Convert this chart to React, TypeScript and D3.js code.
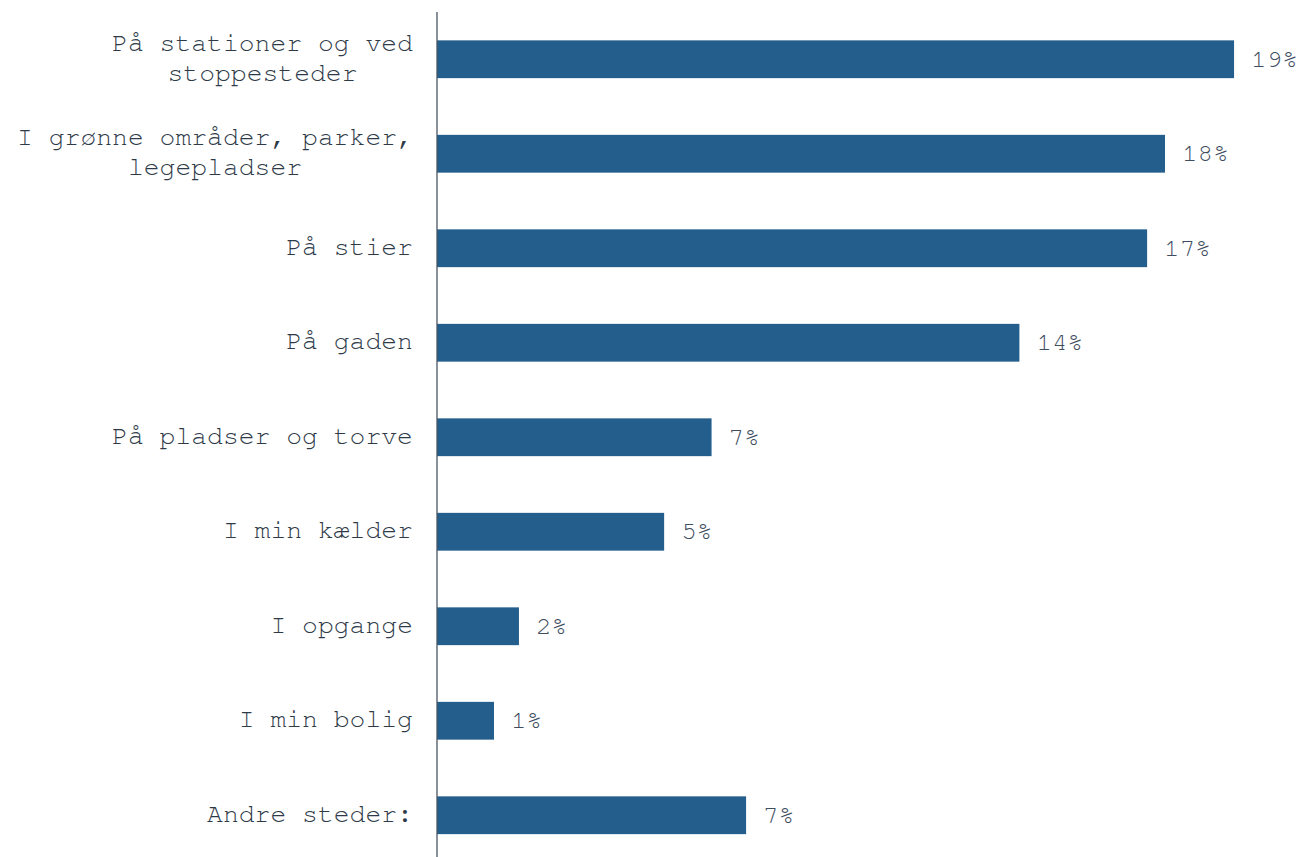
import React from "react";
import * as d3 from "d3";

const categories: string[][] = [
  ["På stationer og ved", "stoppesteder"],
  ["I grønne områder, parker,", "legepladser"],
  ["På stier"],
  ["På gaden"],
  ["På pladser og torve"],
  ["I min kælder"],
  ["I opgange"],
  ["I min bolig"],
  ["Andre steder:"],
];
const values: number[] = [19.16, 17.5, 17.07, 14.0, 6.6, 5.46, 1.97, 1.37, 7.43];
const valueLabels: string[] = ["19%", "18%", "17%", "14%", "7%", "5%", "2%", "1%", "7%"];

const W = 1299;
const H = 857;
const axisX = 437;
const FS = 26.4;
const CW = FS * 0.6;
const FONT = "'Nimbus Mono PS', 'Nimbus Mono L', FreeMono, 'Courier New', 'Liberation Mono', monospace";

export default function App() {
  const x = d3.scaleLinear().domain([0, 1]).range([axisX, axisX + 41.6]);
  const y = d3
    .scaleBand<number>()
    .domain(d3.range(categories.length))
    .range([12, 862.5])
    .paddingInner(0.6)
    .paddingOuter(0.3);

  return (
    <svg width={W} height={H} style={{ position: "absolute", left: 0, top: 0 }}>
      <rect width={W} height={H} fill="#fff" />
      {values.map((v, i) => {
        const y0 = y(i)!;
        const bw = y.bandwidth();
        const cy = y0 + bw / 2;
        const lines = categories[i];
        const maxLen = d3.max(lines, (l) => l.length)!;
        const blockW = maxLen * CW;
        const cx = axisX - 24 - blockW / 2;
        const lh = 30;
        const firstBase = cy + 6.5 - ((lines.length - 1) * lh) / 2;
        return (
          <g key={i}>
            <rect x={x(0)} y={y0} width={x(v) - x(0)} height={bw} fill="#245e8c" />
            <text
              x={x(v) + 17}
              y={cy + 7.5}
              fontFamily={FONT}
              fontSize={26}
              fill="#3e4d60"
            >
              {valueLabels[i]}
            </text>
            <text
              fontFamily={FONT}
              fontSize={FS}
              fill="#2e3a48"
              textAnchor="middle"
            >
              {lines.map((l, k) => (
                <tspan key={k} x={cx} y={firstBase + k * lh}>
                  {l}
                </tspan>
              ))}
            </text>
          </g>
        );
      })}
      <line x1={axisX} x2={axisX} y1={12} y2={H} stroke="#4a5563" strokeWidth={1.3} />
    </svg>
  );
}
